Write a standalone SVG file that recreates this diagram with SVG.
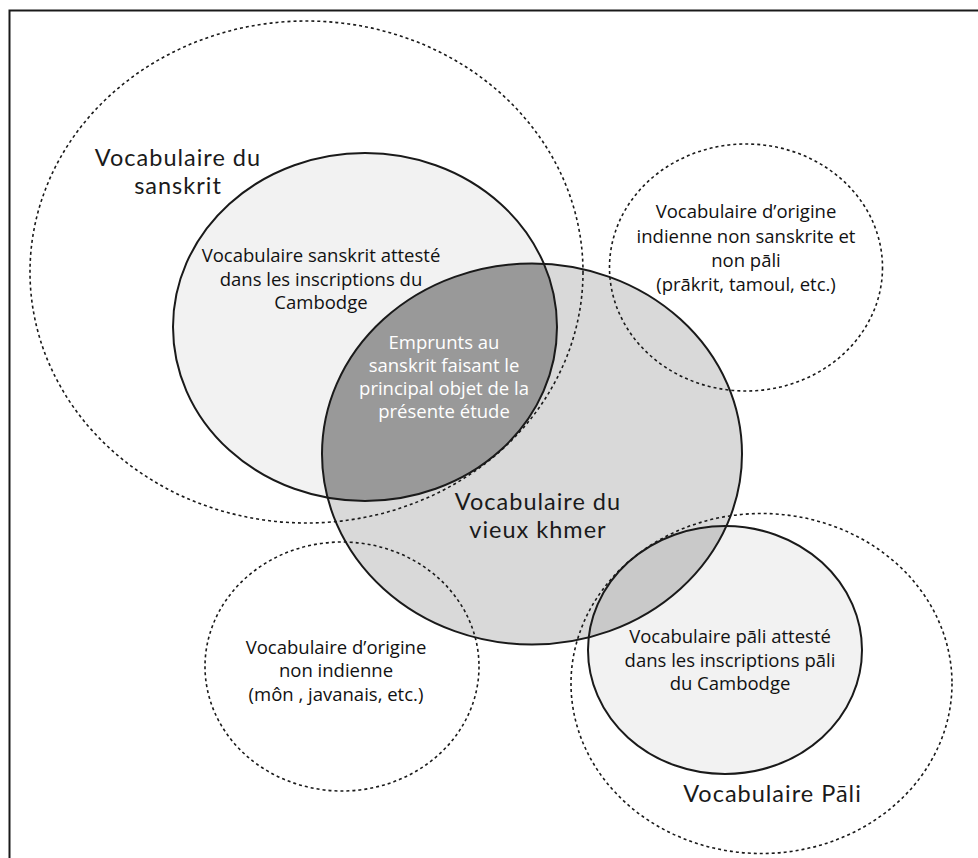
<svg xmlns="http://www.w3.org/2000/svg" width="978" height="858" viewBox="0 0 978 858">
<style>
.solid{stroke:#1a1a1a;stroke-width:2;}
.dash{fill:none;stroke:#1a1a1a;stroke-width:1.6;stroke-dasharray:3 3;}
.t{font-family:"Open Sans","Liberation Sans",sans-serif;fill:#111111;text-anchor:middle;}
.s{font-size:18.5px;}
.b{font-family:Lato,"Open Sans","Liberation Sans",sans-serif;font-size:23.5px;letter-spacing:1px;fill:#1a1a1a;}
.w{fill:#ffffff;}
</style>
<defs>
<clipPath id="clipSkt"><ellipse cx="365" cy="327" rx="192" ry="174"/></clipPath>
<clipPath id="clipPali"><ellipse cx="725" cy="650" rx="137" ry="124"/></clipPath>
</defs>
<rect x="0" y="0" width="978" height="858" fill="#ffffff"/>
<rect x="9.5" y="10.5" width="1000" height="900" fill="none" stroke="#1a1a1a" stroke-width="2"/>

<g id="fills">
<ellipse cx="365" cy="327" rx="192" ry="174" fill="#f2f2f2"/>
<ellipse cx="532" cy="454" rx="210" ry="190.5" fill="#d9d9d9"/>
<ellipse cx="725" cy="650" rx="137" ry="124" fill="#f2f2f2"/>
<ellipse cx="532" cy="454" rx="210" ry="190.5" fill="#999999" clip-path="url(#clipSkt)"/>
<ellipse cx="532" cy="454" rx="210" ry="190.5" fill="#c9c9c9" clip-path="url(#clipPali)"/>
</g>

<g id="sanskrit-atteste">
<ellipse class="solid" cx="365" cy="327" rx="192" ry="174" fill="none"/>
<text class="t s" x="321" y="262">Vocabulaire sanskrit attesté</text>
<text class="t s" x="321" y="286">dans les inscriptions du</text>
<text class="t s" x="321" y="309">Cambodge</text>
</g>

<g id="vieux-khmer">
<ellipse class="solid" cx="532" cy="454" rx="210" ry="190.5" fill="none"/>
<text class="t b" x="538" y="509.5">Vocabulaire du</text>
<text class="t b" x="538" y="538">vieux khmer</text>
</g>

<g id="emprunts">
<text class="t s w" x="444" y="349">Emprunts au</text>
<text class="t s w" x="444" y="372">sanskrit faisant le</text>
<text class="t s w" x="444" y="395">principal objet de la</text>
<text class="t s w" x="444" y="418">présente étude</text>
</g>

<g id="pali-atteste">
<ellipse class="solid" cx="725" cy="650" rx="137" ry="124" fill="none"/>
<text class="t s" x="730" y="643">Vocabulaire pāli attesté</text>
<text class="t s" x="730" y="667">dans les inscriptions pāli</text>
<text class="t s" x="730" y="690">du Cambodge</text>
</g>

<g id="sanskrit">
<ellipse class="dash" cx="306.5" cy="272" rx="276.5" ry="251"/>
<text class="t b" x="178" y="165.5">Vocabulaire du</text>
<text class="t b" x="178" y="194">sanskrit</text>
</g>

<g id="indienne-non-sanskrite">
<ellipse class="dash" cx="746" cy="267.5" rx="136.5" ry="123.5"/>
<text class="t s" x="746" y="218">Vocabulaire d’origine</text>
<text class="t s" x="746" y="243">indienne non sanskrite et</text>
<text class="t s" x="746" y="267">non pāli</text>
<text class="t s" x="746" y="291">(prākrit, tamoul, etc.)</text>
</g>

<g id="non-indienne">
<ellipse class="dash" cx="342" cy="666.5" rx="137" ry="124.5"/>
<text class="t s" x="336" y="654">Vocabulaire d’origine</text>
<text class="t s" x="336" y="677">non indienne</text>
<text class="t s" x="336" y="701">(môn , javanais, etc.)</text>
</g>

<g id="pali">
<ellipse class="dash" cx="761.5" cy="683.5" rx="190.5" ry="170"/>
<text class="t b" x="772.5" y="802">Vocabulaire Pāli</text>
</g>
</svg>
